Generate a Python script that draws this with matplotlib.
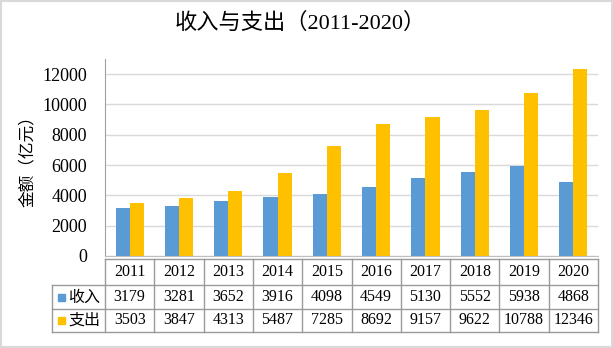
import numpy as np
import matplotlib.pyplot as plt
import matplotlib.transforms as mtransforms
from matplotlib.patches import Rectangle
from matplotlib.lines import Line2D

years = ['2011', '2012', '2013', '2014', '2015', '2016', '2017', '2018', '2019', '2020']
income = [3179, 3281, 3652, 3916, 4098, 4549, 5130, 5552, 5938, 4868]
spend = [3503, 3847, 4313, 5487, 7285, 8692, 9157, 9622, 10788, 12346]
names = ['收入', '支出']
colors = ['#5B9BD5', '#FFC000']

cjk = ['Noto Sans CJK SC', 'DejaVu Sans']
num = ['Liberation Serif', 'Noto Sans CJK SC']

W, H = 613, 348
fig = plt.figure(figsize=(W / 100, H / 100), dpi=100)

def fx(px):
    return px / W

def fy(py):
    return (H - py) / H

# plot area
ax = fig.add_axes([fx(105), fy(256), fx(493), (256 - 59) / H])
x = np.arange(len(years))
bw = 0.285
ax.bar(x - bw / 2, income, bw, color=colors[0], zorder=2)
ax.bar(x + bw / 2, spend, bw, color=colors[1], zorder=2)
ax.set_xlim(-0.5, len(years) - 0.5)
ax.set_ylim(0, 13000)
ax.set_yticks(range(0, 12001, 2000))
ax.set_yticklabels([str(v) for v in range(0, 12001, 2000)], family=num, fontsize=13)
ax.set_xticks([])
ax.grid(axis='y', color='#D9D9D9', lw=1)
ax.set_axisbelow(True)
for s in ['top', 'right']:
    ax.spines[s].set_visible(False)
ax.spines['left'].set_color('#A0A0A0')
ax.spines['bottom'].set_color('#BFBFBF')
ax.tick_params(axis='y', length=0, pad=13)

ax.set_ylabel('金额（亿元）', family=cjk, fontsize=12)
ax.yaxis.set_label_coords((36 - 105) / 493, 0.5)

fig.text(0.49, fy(23), '收入与支出（2011-2020）', family=num, fontsize=16,
         ha='center', va='center')

# data table under the chart
lc = '#9A9A9A'
rows = [259, 285, 309, 332]
left_px, right_px = 52, 598
trans = mtransforms.blended_transform_factory(ax.transData, fig.transFigure)

fig.add_artist(Line2D([fx(105), fx(right_px)], [fy(rows[0])] * 2, color=lc, lw=1))
for r in rows[1:]:
    fig.add_artist(Line2D([fx(left_px), fx(right_px)], [fy(r)] * 2, color=lc, lw=1))
fig.add_artist(Line2D([fx(left_px)] * 2, [fy(rows[1]), fy(rows[3])], color=lc, lw=1))
for i in range(len(years) + 1):
    fig.add_artist(Line2D([i - 0.5] * 2, [fy(rows[0]), fy(rows[3])], color=lc, lw=1,
                          transform=trans))

cy = [(rows[k] + rows[k + 1]) / 2 for k in range(3)]
for i, yr in enumerate(years):
    fig.text(i, fy(cy[0]), yr, transform=trans, ha='center', va='center',
             family=num, fontsize=11.5)
    fig.text(i, fy(cy[1]), str(income[i]), transform=trans, ha='center', va='center',
             family=num, fontsize=11.5)
    fig.text(i, fy(cy[2]), str(spend[i]), transform=trans, ha='center', va='center',
             family=num, fontsize=11.5)

for k in range(2):
    yc = cy[k + 1]
    fig.add_artist(Rectangle((fx(58), fy(yc + 3.5)), fx(7), 7 / H, color=colors[k]))
    fig.text(fx(68), fy(yc), names[k], family=cjk, fontsize=11.5, ha='left', va='center')

fig.add_artist(Rectangle((0.001, 0.002), 0.997, 0.995, transform=fig.transFigure,
                         fill=False, ec='#D9D9D9', lw=1.5))

fig.savefig('out.png', dpi=100)
